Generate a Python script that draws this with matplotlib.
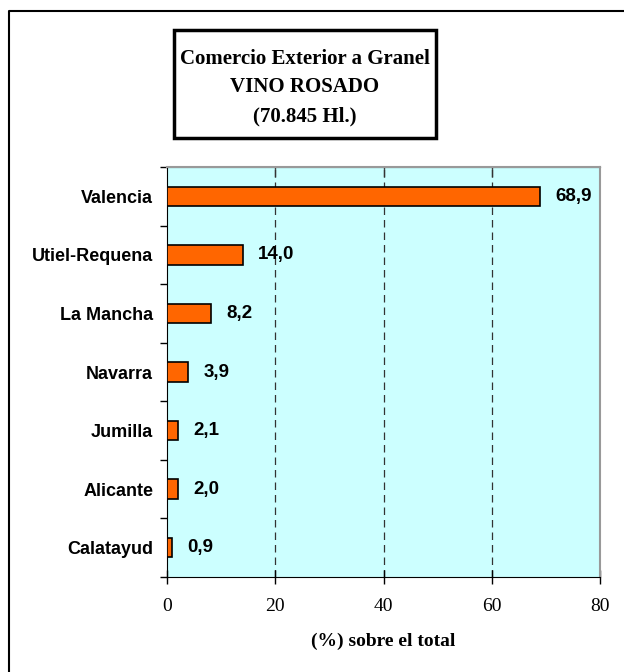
import matplotlib
matplotlib.use("Agg")
import matplotlib.pyplot as plt
from matplotlib.lines import Line2D
from matplotlib.patches import Rectangle
from matplotlib.ticker import FixedLocator

# datos
regiones = ["Valencia", "Utiel-Requena", "La Mancha", "Navarra", "Jumilla", "Alicante", "Calatayud"]
porcentajes = [68.9, 14.0, 8.2, 3.9, 2.1, 2.0, 0.9]
titulo = "Comercio Exterior a Granel\nVINO ROSADO\n(70.845 Hl.)"
etiqueta_x = "(%) sobre el total"
ticks_x = [0, 20, 40, 60, 80]

W, H = 624, 672
fig = plt.figure(figsize=(W / 100, H / 100), dpi=100)
fig.patch.set_facecolor("white")

def px(x0, y0, x1, y1):
    return [x0 / W, 1 - y1 / H, (x1 - x0) / W, (y1 - y0) / H]

ax = fig.add_axes(px(167, 167, 600, 577))
ax.set_facecolor("#CCFFFF")

pos = list(range(len(regiones)))
ax.barh(pos, porcentajes, height=0.33, color="#FF6600", edgecolor="black", linewidth=1.2, zorder=3)
for p, v in zip(pos, porcentajes):
    ax.text(v + 2.8, p, f"{v:.1f}".replace(".", ","), va="center", ha="left",
            fontsize=13.5, fontweight="bold", family="Liberation Sans", zorder=4)

ax.set_xlim(0, 80)
ax.set_ylim(len(regiones) - 0.5, -0.5)
ax.set_xticks(ticks_x)
ax.set_xticklabels([str(t) for t in ticks_x], family="Liberation Serif", fontsize=14)
ax.tick_params(axis="x", direction="inout", length=10, width=1, pad=10)

ax.set_yticks(pos)
ax.set_yticklabels(regiones, family="Liberation Sans", fontsize=13, fontweight="bold")
ax.tick_params(axis="y", which="major", length=0, pad=10)
ax.yaxis.set_minor_locator(FixedLocator([p - 0.5 for p in pos] + [len(pos) - 0.5]))
ax.tick_params(axis="y", which="minor", direction="out", length=5, width=1)

# ticks de arriba hacia dentro
ax_top = ax.secondary_xaxis("top")
ax_top.set_xticks(ticks_x[1:-1])
ax_top.set_xticklabels([])
ax_top.tick_params(direction="in", length=7, width=1, color="#444444")

for g in ticks_x[1:-1]:
    ax.axvline(g, color="#333333", linestyle=(0, (6, 4)), linewidth=0.9, zorder=1)

ax.set_xlabel(etiqueta_x, family="Liberation Serif", fontsize=14, fontweight="bold", labelpad=13)

ax.spines["left"].set_color("black")
ax.spines["bottom"].set_color("black")
ax.spines["top"].set_color("#999999")
ax.spines["right"].set_color("#999999")
ax.spines["top"].set_linewidth(1.5)
ax.spines["right"].set_linewidth(1.5)

# caja del titulo
fig.add_artist(Rectangle((174 / W, 1 - 138 / H), (436 - 174) / W, (138 - 30) / H,
                         transform=fig.transFigure, facecolor="white", edgecolor="black", linewidth=2.5))
fig.text(305 / W, 1 - 87.5 / H, titulo, ha="center", va="center", family="Liberation Serif",
         fontsize=15, fontweight="bold", linespacing=1.6)

# borde exterior
fig.add_artist(Line2D([9 / W, 9 / W, 1], [0, 1 - 11 / H, 1 - 11 / H], transform=fig.transFigure,
                      color="black", linewidth=1.5))

fig.savefig("out.png", dpi=100)
